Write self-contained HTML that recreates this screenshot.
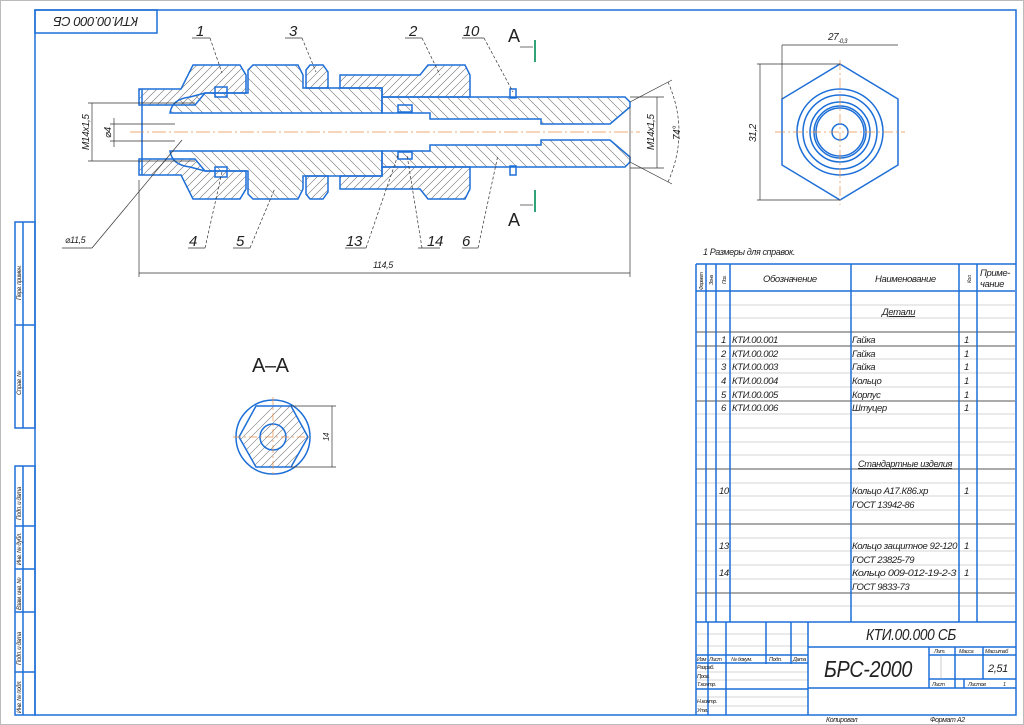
<!DOCTYPE html>
<html><head><meta charset="utf-8"><style>
html,body{margin:0;padding:0;background:#fff;}
svg{display:block;}
text{font-family:"Liberation Sans","DejaVu Sans",sans-serif;font-style:italic;fill:#222;letter-spacing:-0.4px;}
.b{stroke:#1d6fd8;stroke-width:1.5;fill:none;}
.k{stroke:#333;stroke-width:0.7;fill:none;}
.t{stroke:#aaa;stroke-width:0.6;fill:none;}
.d{stroke:#555;stroke-width:0.9;fill:none;}
.hh{stroke:#777;stroke-width:0.6;fill:none;}
</style></head><body>
<svg width="1024" height="725" viewBox="0 0 1024 725" xmlns="http://www.w3.org/2000/svg">
<defs>
<path id="p1" d="M139,89 L181,89 L193,65 L240,65 L246,75 L246,93 L205,93 L195,105 L139,105 Z"/>
<path id="p5" d="M170,113 Q172,99 190,97 L205,93 L248,93 L248,70 L253,65 L298,65 L303,75 L303,88 L382,88 L382,113 Z"/>
<path id="p3" d="M306,70 L310,65 L323,65 L328,72 L328,88 L306,88 Z"/>
<path id="p2" d="M340,75 L420,75 L428,65 L465,65 L470,75 L470,97 L382,97 L382,88 L340,88 Z"/>
<path id="p6" d="M382,97 L625,97 L630,102 L630,107 L610,124 L541,124 L541,119 L430,119 L430,113 L382,113 Z"/>
<clipPath id="cA">
<use href="#p1"/><use href="#p1" transform="matrix(1,0,0,-1,0,264)"/>
<use href="#p2"/><use href="#p2" transform="matrix(1,0,0,-1,0,264)"/>
<use href="#p3"/><use href="#p3" transform="matrix(1,0,0,-1,0,264)"/>
</clipPath>
<clipPath id="cB">
<use href="#p5"/><use href="#p5" transform="matrix(1,0,0,-1,0,264)"/>
<use href="#p6"/><use href="#p6" transform="matrix(1,0,0,-1,0,264)"/>
</clipPath>
<clipPath id="cH"><polygon points="256,406 291,406 308,437 291,467 256,467 239,437"/></clipPath>
<g id="half">
<use href="#p1" class="b"/><use href="#p5" class="b"/><use href="#p3" class="b"/><use href="#p2" class="b"/><use href="#p6" class="b"/>
<rect x="215" y="87" width="12" height="10" fill="#fff" class="b"/>
<rect x="510" y="89" width="6" height="9" fill="#fff" class="b"/>
<rect x="398" y="105" width="14" height="7" fill="#fff" class="b"/>
<line x1="520" y1="97" x2="600" y2="97" stroke="#1d6fd8" stroke-width="0.8" stroke-dasharray="4,3"/>
</g>
</defs>
<rect x="0.5" y="0.5" width="1023" height="724" fill="#fff" stroke="#bbb"/>
<rect x="35" y="10" width="981" height="705" class="b"/>
<rect x="35" y="10" width="122" height="23" class="b"/>
<text x="96" y="26" font-size="13" text-anchor="middle" transform="rotate(180 96 21.5)">КТИ.00.000 СБ</text>
<g class="b">
<rect x="15" y="222" width="20" height="206"/><line x1="15" y1="325" x2="35" y2="325"/><line x1="23" y1="222" x2="23" y2="428"/>
<rect x="15" y="466" width="20" height="249"/><line x1="23" y1="466" x2="23" y2="715"/>
<line x1="15" y1="526" x2="35" y2="526"/><line x1="15" y1="569" x2="35" y2="569"/><line x1="15" y1="612" x2="35" y2="612"/><line x1="15" y1="672" x2="35" y2="672"/>
</g>
<g font-size="6">
<text transform="translate(21,300) rotate(-90)">Перв. примен.</text>
<text transform="translate(21,395) rotate(-90)">Справ. №</text>
<text transform="translate(21,520) rotate(-90)">Подп. и дата</text>
<text transform="translate(21,565) rotate(-90)">Инв. № дубл.</text>
<text transform="translate(21,610) rotate(-90)">Взам. инв. №</text>
<text transform="translate(21,665) rotate(-90)">Подп. и дата</text>
<text transform="translate(21,713) rotate(-90)">Инв. № подл.</text>
</g>
<g clip-path="url(#cA)"><path class="hh" d="M-20,210 l150,-150 m-142,150 l150,-150 m-142,150 l150,-150 m-142,150 l150,-150 m-142,150 l150,-150 m-142,150 l150,-150 m-142,150 l150,-150 m-142,150 l150,-150 m-142,150 l150,-150 m-142,150 l150,-150 m-142,150 l150,-150 m-142,150 l150,-150 m-142,150 l150,-150 m-142,150 l150,-150 m-142,150 l150,-150 m-142,150 l150,-150 m-142,150 l150,-150 m-142,150 l150,-150 m-142,150 l150,-150 m-142,150 l150,-150 m-142,150 l150,-150 m-142,150 l150,-150 m-142,150 l150,-150 m-142,150 l150,-150 m-142,150 l150,-150 m-142,150 l150,-150 m-142,150 l150,-150 m-142,150 l150,-150 m-142,150 l150,-150 m-142,150 l150,-150 m-142,150 l150,-150 m-142,150 l150,-150 m-142,150 l150,-150 m-142,150 l150,-150 m-142,150 l150,-150 m-142,150 l150,-150 m-142,150 l150,-150 m-142,150 l150,-150 m-142,150 l150,-150 m-142,150 l150,-150 m-142,150 l150,-150 m-142,150 l150,-150 m-142,150 l150,-150 m-142,150 l150,-150 m-142,150 l150,-150 m-142,150 l150,-150 m-142,150 l150,-150 m-142,150 l150,-150 m-142,150 l150,-150 m-142,150 l150,-150 m-142,150 l150,-150 m-142,150 l150,-150 m-142,150 l150,-150 m-142,150 l150,-150 m-142,150 l150,-150 m-142,150 l150,-150 m-142,150 l150,-150 m-142,150 l150,-150 m-142,150 l150,-150 m-142,150 l150,-150 m-142,150 l150,-150 m-142,150 l150,-150 m-142,150 l150,-150 m-142,150 l150,-150 m-142,150 l150,-150"/></g>
<g clip-path="url(#cB)"><path class="hh" d="M100,60 l150,150 m-140,-150 l150,150 m-140,-150 l150,150 m-140,-150 l150,150 m-140,-150 l150,150 m-140,-150 l150,150 m-140,-150 l150,150 m-140,-150 l150,150 m-140,-150 l150,150 m-140,-150 l150,150 m-140,-150 l150,150 m-140,-150 l150,150 m-140,-150 l150,150 m-140,-150 l150,150 m-140,-150 l150,150 m-140,-150 l150,150 m-140,-150 l150,150 m-140,-150 l150,150 m-140,-150 l150,150 m-140,-150 l150,150 m-140,-150 l150,150 m-140,-150 l150,150 m-140,-150 l150,150 m-140,-150 l150,150 m-140,-150 l150,150 m-140,-150 l150,150 m-140,-150 l150,150 m-140,-150 l150,150 m-140,-150 l150,150 m-140,-150 l150,150 m-140,-150 l150,150 m-140,-150 l150,150 m-140,-150 l150,150 m-140,-150 l150,150 m-140,-150 l150,150 m-140,-150 l150,150 m-140,-150 l150,150 m-140,-150 l150,150 m-140,-150 l150,150 m-140,-150 l150,150 m-140,-150 l150,150 m-140,-150 l150,150 m-140,-150 l150,150 m-140,-150 l150,150 m-140,-150 l150,150 m-140,-150 l150,150 m-140,-150 l150,150 m-140,-150 l150,150 m-140,-150 l150,150 m-140,-150 l150,150 m-140,-150 l150,150 m-140,-150 l150,150"/></g>
<use href="#half"/>
<use href="#half" transform="matrix(1,0,0,-1,0,264)"/>
<line x1="142" y1="89" x2="142" y2="175" class="b"/>
<line x1="130" y1="132" x2="640" y2="132" stroke="#e8904a" stroke-width="0.7" stroke-dasharray="14,3,2,3"/>
<g class="k">
<line x1="88" y1="103" x2="195" y2="103"/><line x1="88" y1="161" x2="195" y2="161"/>
<line x1="92" y1="103" x2="92" y2="161"/>
<line x1="110" y1="124" x2="175" y2="124"/><line x1="110" y1="141" x2="175" y2="141"/>
<line x1="114" y1="118" x2="114" y2="147"/>
<line x1="139" y1="180" x2="139" y2="277"/><line x1="630" y1="107" x2="630" y2="277"/>
<line x1="139" y1="273" x2="630" y2="273"/>
<line x1="630" y1="97" x2="664" y2="97"/><line x1="630" y1="168" x2="664" y2="168"/>
<line x1="657" y1="97" x2="657" y2="168"/>
<line x1="630" y1="102" x2="672" y2="80"/><line x1="630" y1="162" x2="672" y2="184"/>
<path d="M668,82 Q690,132 668,182" stroke-dasharray="3,2"/>
</g>
<text font-size="10" transform="translate(89,150) rotate(-90)">M14x1,5</text>
<text font-size="10" transform="translate(111,138) rotate(-90)">⌀4</text>
<text font-size="10" transform="translate(654,150) rotate(-90)">M14x1,5</text>
<text font-size="10" transform="translate(680,140) rotate(-90)">74°</text>
<text x="373" y="268" font-size="9">114,5</text>
<g class="k" stroke-width="0.6">
<line x1="192" y1="38" x2="210" y2="38"/><line x1="210" y1="38" x2="222" y2="73" stroke-dasharray="3,2"/>
<line x1="285" y1="38" x2="302" y2="38"/><line x1="302" y1="38" x2="316" y2="72" stroke-dasharray="3,2"/>
<line x1="405" y1="38" x2="422" y2="38"/><line x1="422" y1="38" x2="440" y2="75" stroke-dasharray="3,2"/>
<line x1="462" y1="38" x2="484" y2="38"/><line x1="484" y1="38" x2="513" y2="92" stroke-dasharray="3,2"/>
<line x1="188" y1="248" x2="205" y2="248"/><line x1="205" y1="248" x2="222" y2="172" stroke-dasharray="3,2"/>
<line x1="233" y1="248" x2="250" y2="248"/><line x1="250" y1="248" x2="275" y2="188" stroke-dasharray="3,2"/>
<line x1="345" y1="248" x2="366" y2="248"/><line x1="366" y1="248" x2="398" y2="155" stroke-dasharray="3,2"/>
<line x1="418" y1="248" x2="440" y2="248"/><line x1="422" y1="248" x2="407" y2="155" stroke-dasharray="3,2"/>
<line x1="462" y1="248" x2="478" y2="248"/><line x1="478" y1="248" x2="498" y2="155" stroke-dasharray="3,2"/>
<line x1="62" y1="248" x2="92" y2="248"/><line x1="92" y1="248" x2="182" y2="140"/>
</g>
<g font-size="15">
<text x="196" y="36">1</text><text x="289" y="36">3</text><text x="409" y="36">2</text><text x="463" y="36">10</text>
<text x="189" y="246">4</text><text x="236" y="246">5</text><text x="346" y="246">13</text><text x="427" y="246">14</text><text x="462" y="246">6</text>
</g>
<text x="65" y="243" font-size="9">⌀11,5</text>
<text x="508" y="42" font-size="18" style="font-style:normal">A</text>
<text x="508" y="226" font-size="18" style="font-style:normal">A</text>
<g stroke="#1a9a6a" stroke-width="1.8"><line x1="535" y1="40" x2="535" y2="62"/><line x1="535" y1="190" x2="535" y2="212"/></g>
<g class="k"><line x1="520" y1="47" x2="533" y2="47"/><line x1="520" y1="205" x2="533" y2="205"/></g>
<g class="b">
<polygon points="840,64 898,99 898,165 840,200 782,165 782,99"/>
<circle cx="840" cy="132" r="43"/><circle cx="840" cy="132" r="37"/><circle cx="840" cy="132" r="30"/><circle cx="840" cy="132" r="26"/><circle cx="840" cy="132" r="24"/><circle cx="840" cy="132" r="8"/>
</g>
<g class="k">
<line x1="775" y1="132" x2="905" y2="132" stroke="#e8904a" stroke-dasharray="10,3,2,3"/>
<line x1="840" y1="60" x2="840" y2="205" stroke="#e8904a" stroke-dasharray="10,3,2,3"/>
<line x1="782" y1="45" x2="782" y2="99"/><line x1="782" y1="45" x2="898" y2="45"/>
<line x1="757" y1="64" x2="840" y2="64"/><line x1="757" y1="200" x2="840" y2="200"/><line x1="760" y1="64" x2="760" y2="200"/>
</g>
<text x="828" y="40" font-size="10">27<tspan font-size="6" dy="3">-0,3</tspan></text>
<text font-size="10" transform="translate(756,142) rotate(-90)">31,2</text>
<text x="252" y="372" font-size="20" style="font-style:normal">A–A</text>
<g clip-path="url(#cH)"><path class="hh" d="M200,480 l90,-90 m-82,90 l90,-90 m-82,90 l90,-90 m-82,90 l90,-90 m-82,90 l90,-90 m-82,90 l90,-90 m-82,90 l90,-90 m-82,90 l90,-90 m-82,90 l90,-90 m-82,90 l90,-90 m-82,90 l90,-90 m-82,90 l90,-90 m-82,90 l90,-90 m-82,90 l90,-90 m-82,90 l90,-90 m-82,90 l90,-90 m-82,90 l90,-90"/></g>
<circle cx="273" cy="437" r="37" class="b"/>
<polygon points="256,406 291,406 308,437 291,467 256,467 239,437" class="b"/>
<circle cx="273" cy="437" r="13" fill="#fff" class="b"/>
<g class="k"><line x1="291" y1="406" x2="336" y2="406"/><line x1="291" y1="467" x2="336" y2="467"/><line x1="332" y1="406" x2="332" y2="467"/>
<line x1="233" y1="437" x2="313" y2="437" stroke="#e8904a" stroke-dasharray="8,3,2,3"/><line x1="273" y1="397" x2="273" y2="477" stroke="#e8904a" stroke-dasharray="8,3,2,3"/></g>
<text font-size="8" transform="translate(329,441) rotate(-90)">14</text>
<text x="703" y="255" font-size="9">1 Размеры для справок.</text>
<g class="t">
<line x1="696" y1="305" x2="1015" y2="305"/><line x1="696" y1="318" x2="1015" y2="318"/>
<line x1="696" y1="359" x2="1015" y2="359"/><line x1="696" y1="373" x2="1015" y2="373"/><line x1="696" y1="387" x2="1015" y2="387"/>
<line x1="696" y1="414" x2="1015" y2="414"/><line x1="696" y1="428" x2="1015" y2="428"/><line x1="696" y1="442" x2="1015" y2="442"/>
<line x1="696" y1="455" x2="1015" y2="455"/><line x1="696" y1="483" x2="1015" y2="483"/><line x1="696" y1="496" x2="1015" y2="496"/>
<line x1="696" y1="510" x2="1015" y2="510"/><line x1="696" y1="538" x2="1015" y2="538"/><line x1="696" y1="551" x2="1015" y2="551"/>
<line x1="696" y1="565" x2="1015" y2="565"/><line x1="696" y1="579" x2="1015" y2="579"/><line x1="696" y1="606" x2="1015" y2="606"/>
</g>
<g class="d">
<line x1="696" y1="332" x2="1015" y2="332"/><line x1="696" y1="346" x2="1015" y2="346"/><line x1="696" y1="401" x2="1015" y2="401"/>
<line x1="696" y1="469" x2="1015" y2="469"/><line x1="696" y1="524" x2="1015" y2="524"/><line x1="696" y1="593" x2="1015" y2="593"/>
</g>
<g class="b">
<line x1="696" y1="264" x2="1016" y2="264"/><line x1="696" y1="291" x2="1015" y2="291"/>
<line x1="696" y1="264" x2="696" y2="715"/>
<line x1="706" y1="264" x2="706" y2="622"/><line x1="716" y1="264" x2="716" y2="622"/><line x1="730" y1="264" x2="730" y2="622"/>
<line x1="851" y1="264" x2="851" y2="622"/><line x1="959" y1="264" x2="959" y2="622"/><line x1="977" y1="264" x2="977" y2="622"/>
<line x1="696" y1="622" x2="1016" y2="622"/>
</g>
<g font-size="5"><text transform="translate(703,290) rotate(-90)">Формат</text><text transform="translate(713,285) rotate(-90)">Зона</text><text transform="translate(726,284) rotate(-90)">Поз.</text><text transform="translate(971,283) rotate(-90)">Кол.</text></g>
<g font-size="9.5">
<text x="763" y="282">Обозначение</text><text x="875" y="282">Наименование</text>
<text x="980" y="276">Приме-</text><text x="980" y="287">чание</text>
<text x="882" y="315" text-decoration="underline">Детали</text>
<text x="721" y="343">1</text><text x="732" y="343">КТИ.00.001</text><text x="852" y="343">Гайка</text><text x="964" y="343">1</text>
<text x="721" y="357">2</text><text x="732" y="357">КТИ.00.002</text><text x="852" y="357">Гайка</text><text x="964" y="357">1</text>
<text x="721" y="370">3</text><text x="732" y="370">КТИ.00.003</text><text x="852" y="370">Гайка</text><text x="964" y="370">1</text>
<text x="721" y="384">4</text><text x="732" y="384">КТИ.00.004</text><text x="852" y="384">Кольцо</text><text x="964" y="384">1</text>
<text x="721" y="398">5</text><text x="732" y="398">КТИ.00.005</text><text x="852" y="398">Корпус</text><text x="964" y="398">1</text>
<text x="721" y="411">6</text><text x="732" y="411">КТИ.00.006</text><text x="852" y="411">Штуцер</text><text x="964" y="411">1</text>
<text x="858" y="467" text-decoration="underline" textLength="94" lengthAdjust="spacingAndGlyphs">Стандартные изделия</text>
<text x="719" y="494">10</text><text x="852" y="494">Кольцо А17.К86.хр</text><text x="964" y="494">1</text><text x="852" y="508">ГОСТ 13942-86</text>
<text x="719" y="549">13</text><text x="852" y="549" textLength="105" lengthAdjust="spacingAndGlyphs">Кольцо защитное 92-120</text><text x="964" y="549">1</text><text x="852" y="563">ГОСТ 23825-79</text>
<text x="719" y="576">14</text><text x="852" y="576" textLength="104" lengthAdjust="spacingAndGlyphs">Кольцо 009-012-19-2-3</text><text x="964" y="576">1</text><text x="852" y="590">ГОСТ 9833-73</text>
</g>
<g class="t">
<line x1="696" y1="634" x2="808" y2="634"/><line x1="696" y1="646" x2="808" y2="646"/>
<line x1="696" y1="672" x2="808" y2="672"/><line x1="696" y1="680" x2="808" y2="680"/>
<line x1="696" y1="697" x2="808" y2="697"/><line x1="696" y1="706" x2="808" y2="706"/>
</g>
<g class="b">
<line x1="708" y1="622" x2="708" y2="715"/><line x1="726" y1="622" x2="726" y2="715"/>
<line x1="766" y1="622" x2="766" y2="664"/><line x1="791" y1="622" x2="791" y2="664"/>
<line x1="808" y1="622" x2="808" y2="715"/>
<line x1="696" y1="655" x2="808" y2="655"/><line x1="696" y1="663" x2="808" y2="663"/><line x1="696" y1="689" x2="808" y2="689"/>
<line x1="808" y1="647" x2="1016" y2="647"/><line x1="808" y1="688" x2="1016" y2="688"/>
<line x1="929" y1="647" x2="929" y2="688"/><line x1="955" y1="647" x2="955" y2="688"/><line x1="983" y1="647" x2="983" y2="679"/>
<line x1="929" y1="655" x2="1016" y2="655"/><line x1="929" y1="679" x2="1016" y2="679"/>
<line x1="964" y1="679" x2="964" y2="688"/>
</g>
<line x1="941" y1="656" x2="941" y2="679" class="t"/>
<g font-size="5.5">
<text x="697" y="661">Изм</text><text x="709" y="661">Лист</text><text x="731" y="661">№ докум.</text><text x="769" y="661">Подп.</text><text x="793" y="661">Дата</text>
<text x="697" y="669">Разраб.</text><text x="697" y="678">Пров.</text><text x="697" y="686">Т.контр.</text><text x="697" y="703">Н.контр.</text><text x="697" y="712">Утв.</text>
<text x="934" y="653">Лит.</text><text x="959" y="653">Масса</text><text x="985" y="653">Масштаб</text>
<text x="932" y="686">Лист</text><text x="968" y="686">Листов</text><text x="1003" y="686">1</text>
</g>
<text x="866" y="640" font-size="16" textLength="90" lengthAdjust="spacingAndGlyphs">КТИ.00.000 СБ</text>
<text x="824" y="677" font-size="23" textLength="88" lengthAdjust="spacingAndGlyphs">БРС-2000</text>
<text x="988" y="672" font-size="11">2,51</text>
<text x="826" y="722" font-size="7">Копировал</text>
<text x="930" y="722" font-size="7">Формат   A2</text>
</svg>
</body></html>
